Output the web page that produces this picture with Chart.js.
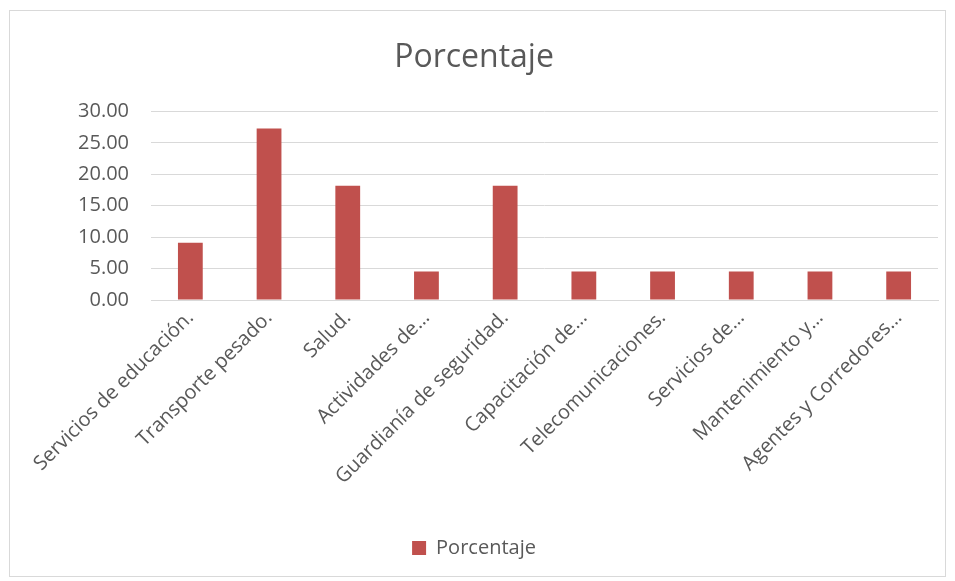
<!DOCTYPE html>
<html>
<head>
<meta charset="utf-8">
<script src="https://cdn.jsdelivr.net/npm/chart.js@4/dist/chart.umd.min.js"></script>
<style>
  body { margin: 0; background: #fff; }
  #box { position: absolute; left: 9px; top: 10px; width: 937px; height: 567px; border: 1px solid #d9d9d9; box-sizing: border-box; }
</style>
</head>
<body>
<div id="box"><canvas id="chart"></canvas></div>
<script>
const categories = [
  'Servicios de educación.',
  'Transporte pesado.',
  'Salud.',
  'Actividades de…',
  'Guardianía de seguridad.',
  'Capacitación de…',
  'Telecomunicaciones.',
  'Servicios de…',
  'Mantenimiento y…',
  'Agentes y Corredores…'
];
const porcentaje = [9.09, 27.27, 18.18, 4.55, 18.18, 4.55, 4.55, 4.55, 4.55, 4.55];
const yTicks = [0, 5, 10, 15, 20, 25, 30];

const fontFamily = '"Open Sans", "Noto Sans", sans-serif';
const textColor = '#595959';

new Chart(document.getElementById('chart'), {
  type: 'bar',
  data: {
    labels: categories,
    datasets: [{
      label: 'Porcentaje',
      data: porcentaje,
      backgroundColor: '#c0504d',
      borderWidth: 0,
      barPercentage: 0.315,
      categoryPercentage: 1
    }]
  },
  options: {
    responsive: true,
    maintainAspectRatio: false,
    animation: false,
    layout: { padding: { left: 0, right: 7, top: 0, bottom: 8 } },
    plugins: {
      title: {
        display: true,
        text: 'Porcentaje',
        color: textColor,
        font: { family: fontFamily, size: 32, weight: 'normal' },
        padding: { top: 28, bottom: 34 }
      },
      legend: {
        position: 'bottom',
        labels: {
          color: textColor,
          font: { family: fontFamily, size: 20 },
          boxWidth: 14,
          boxHeight: 14,
          padding: 10
        }
      },
      tooltip: { enabled: false }
    },
    scales: {
      x: {
        grid: { display: false, drawTicks: false },
        border: { display: true, color: '#d9d9d9' },
        ticks: {
          color: textColor,
          font: { family: fontFamily, size: 20 },
          autoSkip: false,
          minRotation: 45,
          maxRotation: 45,
          padding: 6
        },
        afterFit(scale) { scale.height = 228; }
      },
      y: {
        min: 0,
        max: 30,
        afterBuildTicks(scale) { scale.ticks = yTicks.map(v => ({ value: v })); },
        grid: { color: '#d9d9d9', drawTicks: false },
        border: { display: false },
        ticks: {
          color: textColor,
          font: { family: fontFamily, size: 20 },
          padding: 22,
          callback: v => v.toFixed(2)
        },
        afterFit(scale) { scale.width = 141; }
      }
    }
  }
});
</script>
</body>
</html>
